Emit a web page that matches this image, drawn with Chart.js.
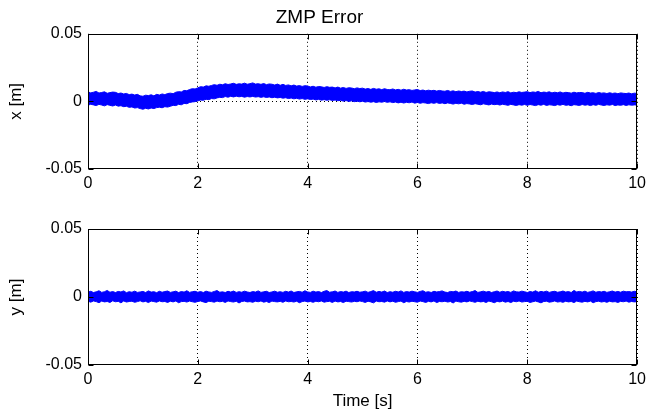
<!DOCTYPE html>
<html>
<head>
<meta charset="utf-8">
<title>ZMP Error</title>
<script src="https://cdn.jsdelivr.net/npm/chart.js@4.4.0/dist/chart.umd.min.js"></script>
<style>
  body { margin: 0; background: #fff; }
  #wrap { position: relative; width: 651px; height: 414px; }
  canvas { position: absolute; left: 0; }
  #zmpx { top: 0; }
  #zmpy { top: 200px; }
</style>
</head>
<body>
<div id="wrap">
  <canvas id="zmpx" width="651" height="200"></canvas>
  <canvas id="zmpy" width="651" height="214"></canvas>
</div>
<script>
// sample times [s]
const time = [
  0, 0.05, 0.1, 0.15, 0.2, 0.25, 0.3, 0.35, 0.4, 0.45,
  0.5, 0.55, 0.6, 0.65, 0.7, 0.75, 0.8, 0.85, 0.9, 0.95,
  1, 1.05, 1.1, 1.15, 1.2, 1.25, 1.3, 1.35, 1.4, 1.45,
  1.5, 1.55, 1.6, 1.65, 1.7, 1.75, 1.8, 1.85, 1.9, 1.95,
  2, 2.05, 2.1, 2.15, 2.2, 2.25, 2.3, 2.35, 2.4, 2.45,
  2.5, 2.55, 2.6, 2.65, 2.7, 2.75, 2.8, 2.85, 2.9, 2.95,
  3, 3.05, 3.1, 3.15, 3.2, 3.25, 3.3, 3.35, 3.4, 3.45,
  3.5, 3.55, 3.6, 3.65, 3.7, 3.75, 3.8, 3.85, 3.9, 3.95,
  4, 4.05, 4.1, 4.15, 4.2, 4.25, 4.3, 4.35, 4.4, 4.45,
  4.5, 4.55, 4.6, 4.65, 4.7, 4.75, 4.8, 4.85, 4.9, 4.95,
  5, 5.05, 5.1, 5.15, 5.2, 5.25, 5.3, 5.35, 5.4, 5.45,
  5.5, 5.55, 5.6, 5.65, 5.7, 5.75, 5.8, 5.85, 5.9, 5.95,
  6, 6.05, 6.1, 6.15, 6.2, 6.25, 6.3, 6.35, 6.4, 6.45,
  6.5, 6.55, 6.6, 6.65, 6.7, 6.75, 6.8, 6.85, 6.9, 6.95,
  7, 7.05, 7.1, 7.15, 7.2, 7.25, 7.3, 7.35, 7.4, 7.45,
  7.5, 7.55, 7.6, 7.65, 7.7, 7.75, 7.8, 7.85, 7.9, 7.95,
  8, 8.05, 8.1, 8.15, 8.2, 8.25, 8.3, 8.35, 8.4, 8.45,
  8.5, 8.55, 8.6, 8.65, 8.7, 8.75, 8.8, 8.85, 8.9, 8.95,
  9, 9.05, 9.1, 9.15, 9.2, 9.25, 9.3, 9.35, 9.4, 9.45,
  9.5, 9.55, 9.6, 9.65, 9.7, 9.75, 9.8, 9.85, 9.9, 9.95,
  10
];

// x error: upper / lower edge of the noisy trace [m]
const xUpper = [
  0.0070, 0.0063, 0.0068, 0.0074, 0.0062, 0.0066, 0.0071, 0.0060, 0.0065, 0.0069,
  0.0067, 0.0058, 0.0062, 0.0055, 0.0059, 0.0050, 0.0054, 0.0047, 0.0052, 0.0041,
  0.0038, 0.0046, 0.0043, 0.0049, 0.0041, 0.0052, 0.0047, 0.0055, 0.0050, 0.0058,
  0.0061, 0.0057, 0.0068, 0.0072, 0.0070, 0.0081, 0.0079, 0.0088, 0.0094, 0.0092,
  0.0100, 0.0109, 0.0106, 0.0115, 0.0112, 0.0118, 0.0124, 0.0119, 0.0127, 0.0123,
  0.0131, 0.0125, 0.0129, 0.0134, 0.0126, 0.0130, 0.0128, 0.0135, 0.0127, 0.0131,
  0.0137, 0.0128, 0.0131, 0.0126, 0.0132, 0.0124, 0.0129, 0.0127, 0.0121, 0.0128,
  0.0119, 0.0126, 0.0118, 0.0122, 0.0115, 0.0121, 0.0113, 0.0117, 0.0111, 0.0116,
  0.0114, 0.0107, 0.0112, 0.0105, 0.0110, 0.0108, 0.0103, 0.0109, 0.0104, 0.0106,
  0.0100, 0.0106, 0.0098, 0.0103, 0.0096, 0.0101, 0.0099, 0.0094, 0.0100, 0.0095,
  0.0098, 0.0091, 0.0095, 0.0089, 0.0096, 0.0090, 0.0093, 0.0087, 0.0094, 0.0088,
  0.0086, 0.0092, 0.0085, 0.0089, 0.0083, 0.0090, 0.0084, 0.0087, 0.0081, 0.0085,
  0.0088, 0.0080, 0.0084, 0.0078, 0.0083, 0.0079, 0.0082, 0.0076, 0.0081, 0.0077,
  0.0075, 0.0081, 0.0074, 0.0078, 0.0072, 0.0077, 0.0073, 0.0076, 0.0070, 0.0075,
  0.0077, 0.0069, 0.0073, 0.0068, 0.0074, 0.0066, 0.0071, 0.0069, 0.0065, 0.0070,
  0.0064, 0.0070, 0.0066, 0.0072, 0.0063, 0.0068, 0.0065, 0.0071, 0.0066, 0.0069,
  0.0072, 0.0065, 0.0070, 0.0067, 0.0074, 0.0064, 0.0069, 0.0066, 0.0071, 0.0063,
  0.0068, 0.0064, 0.0070, 0.0062, 0.0067, 0.0065, 0.0061, 0.0068, 0.0063, 0.0066,
  0.0065, 0.0060, 0.0067, 0.0062, 0.0064, 0.0059, 0.0066, 0.0061, 0.0063, 0.0058,
  0.0064, 0.0059, 0.0062, 0.0057, 0.0063, 0.0060, 0.0058, 0.0062, 0.0056, 0.0061,
  0.0059
];
const xLower = [
  -0.0028, -0.0021, -0.0026, -0.0031, -0.0022, -0.0027, -0.0033, -0.0024, -0.0029, -0.0034,
  -0.0027, -0.0035, -0.0032, -0.0039, -0.0036, -0.0044, -0.0041, -0.0049, -0.0046, -0.0053,
  -0.0058, -0.0051, -0.0056, -0.0049, -0.0053, -0.0046, -0.0043, -0.0047, -0.0039, -0.0042,
  -0.0036, -0.0029, -0.0031, -0.0022, -0.0025, -0.0015, -0.0017, -0.0008, -0.0004, -0.0002,
  0.0004, 0.0010, 0.0008, 0.0016, 0.0013, 0.0021, 0.0019, 0.0026, 0.0030, 0.0028,
  0.0036, 0.0031, 0.0038, 0.0033, 0.0039, 0.0034, 0.0037, 0.0031, 0.0036, 0.0033,
  0.0037, 0.0032, 0.0035, 0.0030, 0.0034, 0.0029, 0.0033, 0.0027, 0.0031, 0.0026,
  0.0029, 0.0024, 0.0027, 0.0021, 0.0025, 0.0019, 0.0023, 0.0017, 0.0021, 0.0015,
  0.0019, 0.0014, 0.0017, 0.0011, 0.0015, 0.0009, 0.0013, 0.0008, 0.0012, 0.0007,
  0.0010, 0.0005, 0.0008, 0.0002, 0.0006, 0.0000, 0.0004, -0.0002, 0.0002, -0.0003,
  0.0001, -0.0005, -0.0001, -0.0006, -0.0002, -0.0008, -0.0003, -0.0006, -0.0001, -0.0007,
  -0.0003, -0.0009, -0.0005, -0.0011, -0.0006, -0.0012, -0.0007, -0.0010, -0.0005, -0.0013,
  -0.0008, -0.0014, -0.0009, -0.0012, -0.0016, -0.0010, -0.0014, -0.0009, -0.0015, -0.0011,
  -0.0017, -0.0011, -0.0015, -0.0020, -0.0014, -0.0018, -0.0013, -0.0021, -0.0016, -0.0019,
  -0.0023, -0.0017, -0.0021, -0.0025, -0.0018, -0.0022, -0.0026, -0.0020, -0.0024, -0.0021,
  -0.0027, -0.0021, -0.0025, -0.0029, -0.0022, -0.0026, -0.0030, -0.0024, -0.0028, -0.0023,
  -0.0029, -0.0023, -0.0027, -0.0031, -0.0024, -0.0028, -0.0022, -0.0030, -0.0025, -0.0027,
  -0.0031, -0.0024, -0.0028, -0.0022, -0.0029, -0.0026, -0.0032, -0.0024, -0.0027, -0.0030,
  -0.0023, -0.0028, -0.0025, -0.0031, -0.0024, -0.0029, -0.0022, -0.0027, -0.0030, -0.0025,
  -0.0028, -0.0023, -0.0031, -0.0026, -0.0029, -0.0024, -0.0030, -0.0025, -0.0028, -0.0026,
  -0.0027
];

// y error: upper / lower edge of the noisy trace [m]
const yUpper = [
  0.0036, 0.0042, 0.0033, 0.0038, 0.0046, 0.0034, 0.0039, 0.0048, 0.0035, 0.0040,
  0.0033, 0.0041, 0.0037, 0.0045, 0.0032, 0.0039, 0.0035, 0.0043, 0.0034, 0.0037,
  0.0041, 0.0033, 0.0045, 0.0036, 0.0039, 0.0032, 0.0042, 0.0035, 0.0040, 0.0044,
  0.0034, 0.0038, 0.0043, 0.0033, 0.0040, 0.0036, 0.0046, 0.0034, 0.0039, 0.0042,
  0.0035, 0.0040, 0.0033, 0.0043, 0.0037, 0.0034, 0.0041, 0.0047, 0.0035, 0.0038,
  0.0033, 0.0042, 0.0036, 0.0044, 0.0034, 0.0039, 0.0035, 0.0043, 0.0037, 0.0033,
  0.0040, 0.0036, 0.0045, 0.0034, 0.0038, 0.0042, 0.0033, 0.0037, 0.0043, 0.0035,
  0.0039, 0.0034, 0.0042, 0.0036, 0.0044, 0.0033, 0.0038, 0.0041, 0.0035, 0.0046,
  0.0037, 0.0034, 0.0043, 0.0036, 0.0040, 0.0033, 0.0042, 0.0047, 0.0035, 0.0038,
  0.0044, 0.0034, 0.0040, 0.0036, 0.0043, 0.0033, 0.0039, 0.0037, 0.0042, 0.0035,
  0.0038, 0.0043, 0.0034, 0.0040, 0.0047, 0.0035, 0.0041, 0.0036, 0.0044, 0.0033,
  0.0039, 0.0035, 0.0042, 0.0037, 0.0045, 0.0034, 0.0040, 0.0036, 0.0043, 0.0038,
  0.0034, 0.0041, 0.0046, 0.0035, 0.0039, 0.0033, 0.0042, 0.0037, 0.0040, 0.0045,
  0.0036, 0.0033, 0.0041, 0.0038, 0.0044, 0.0034, 0.0039, 0.0036, 0.0042, 0.0035,
  0.0040, 0.0047, 0.0034, 0.0038, 0.0043, 0.0036, 0.0041, 0.0033, 0.0039, 0.0044,
  0.0035, 0.0042, 0.0037, 0.0040, 0.0034, 0.0045, 0.0038, 0.0036, 0.0043, 0.0039,
  0.0033, 0.0040, 0.0036, 0.0046, 0.0035, 0.0041, 0.0037, 0.0043, 0.0034, 0.0039,
  0.0042, 0.0035, 0.0038, 0.0044, 0.0036, 0.0040, 0.0033, 0.0048, 0.0037, 0.0041,
  0.0036, 0.0043, 0.0034, 0.0039, 0.0045, 0.0035, 0.0040, 0.0037, 0.0042, 0.0034,
  0.0039, 0.0044, 0.0036, 0.0041, 0.0035, 0.0043, 0.0038, 0.0040, 0.0036, 0.0042,
  0.0038
];
const yLower = [
  -0.0031, -0.0038, -0.0029, -0.0034, -0.0042, -0.0030, -0.0036, -0.0033, -0.0040, -0.0028,
  -0.0035, -0.0032, -0.0043, -0.0029, -0.0037, -0.0033, -0.0031, -0.0039, -0.0034, -0.0028,
  -0.0036, -0.0032, -0.0041, -0.0030, -0.0034, -0.0038, -0.0029, -0.0035, -0.0033, -0.0040,
  -0.0031, -0.0036, -0.0029, -0.0042, -0.0034, -0.0032, -0.0037, -0.0030, -0.0035, -0.0039,
  -0.0033, -0.0029, -0.0036, -0.0041, -0.0031, -0.0034, -0.0038, -0.0030, -0.0035, -0.0032,
  -0.0040, -0.0029, -0.0034, -0.0037, -0.0031, -0.0044, -0.0033, -0.0030, -0.0036, -0.0034,
  -0.0039, -0.0031, -0.0035, -0.0029, -0.0038, -0.0033, -0.0041, -0.0030, -0.0034, -0.0036,
  -0.0032, -0.0039, -0.0029, -0.0035, -0.0033, -0.0037, -0.0031, -0.0042, -0.0034, -0.0030,
  -0.0036, -0.0033, -0.0039, -0.0031, -0.0035, -0.0029, -0.0038, -0.0034, -0.0032, -0.0040,
  -0.0030, -0.0036, -0.0033, -0.0041, -0.0031, -0.0034, -0.0037, -0.0032, -0.0035, -0.0029,
  -0.0034, -0.0040, -0.0031, -0.0036, -0.0043, -0.0030, -0.0035, -0.0033, -0.0038, -0.0029,
  -0.0036, -0.0031, -0.0039, -0.0034, -0.0030, -0.0042, -0.0033, -0.0037, -0.0031, -0.0035,
  -0.0038, -0.0030, -0.0034, -0.0040, -0.0032, -0.0036, -0.0029, -0.0041, -0.0033, -0.0035,
  -0.0031, -0.0037, -0.0033, -0.0044, -0.0030, -0.0035, -0.0038, -0.0032, -0.0036, -0.0029,
  -0.0034, -0.0039, -0.0031, -0.0036, -0.0033, -0.0040, -0.0030, -0.0035, -0.0042, -0.0032,
  -0.0036, -0.0030, -0.0038, -0.0033, -0.0041, -0.0031, -0.0035, -0.0029, -0.0037, -0.0034,
  -0.0032, -0.0040, -0.0035, -0.0030, -0.0036, -0.0043, -0.0033, -0.0031, -0.0038, -0.0035,
  -0.0029, -0.0037, -0.0034, -0.0039, -0.0031, -0.0036, -0.0033, -0.0041, -0.0030, -0.0035,
  -0.0038, -0.0032, -0.0036, -0.0030, -0.0042, -0.0034, -0.0031, -0.0037, -0.0033, -0.0039,
  -0.0031, -0.0036, -0.0034, -0.0040, -0.0032, -0.0035, -0.0030, -0.0038, -0.0033, -0.0036,
  -0.0034
];

const timeTicks = [0, 2, 4, 6, 8, 10];
const errTicks = [-0.05, 0, 0.05];

Chart.defaults.font.family = "'Liberation Sans', Arial, sans-serif";
Chart.defaults.color = '#000';

// box around the axes plus short inward tick marks
const frame = {
  id: 'frame',
  afterDraw(chart) {
    const { ctx, chartArea: a, scales } = chart;
    const l = Math.round(a.left) + 0.5, r = Math.round(a.right) - 0.5;
    const t = Math.round(a.top) + 0.5, b = Math.round(a.bottom) - 0.5;
    ctx.save();
    ctx.strokeStyle = '#000';
    ctx.lineWidth = 1;
    ctx.beginPath();
    scales.x.ticks.forEach(tk => {
      const px = Math.round(scales.x.getPixelForValue(tk.value)) + 0.5;
      ctx.moveTo(px, t); ctx.lineTo(px, t + 5);
      ctx.moveTo(px, b); ctx.lineTo(px, b - 5);
    });
    scales.y.ticks.forEach(tk => {
      const py = Math.round(scales.y.getPixelForValue(tk.value)) + 0.5;
      ctx.moveTo(l, py); ctx.lineTo(l + 5, py);
      ctx.moveTo(r, py); ctx.lineTo(r - 5, py);
    });
    ctx.stroke();
    ctx.strokeRect(l, t, r - l, b - t);
    ctx.restore();
  }
};

function band(upper, lower) {
  const edge = {
    borderColor: '#0000ff',
    backgroundColor: '#0000ff',
    borderWidth: 1,
    pointRadius: 0,
    tension: 0
  };
  return [
    { ...edge, data: time.map((t, i) => ({ x: t, y: upper[i] })), fill: '+1' },
    { ...edge, data: time.map((t, i) => ({ x: t, y: lower[i] })), fill: false }
  ];
}

function makeChart(id, upper, lower, o) {
  return new Chart(document.getElementById(id), {
    type: 'line',
    data: { datasets: band(upper, lower) },
    options: {
      responsive: false,
      animation: false,
      devicePixelRatio: 1,
      layout: { padding: { top: o.padTop, right: 12, left: 0, bottom: 0 } },
      plugins: {
        legend: { display: false },
        tooltip: { enabled: false },
        title: {
          display: !!o.title,
          text: o.title || '',
          color: '#000',
          font: { size: 19, weight: 'normal' },
          padding: { top: 6, bottom: 5 }
        }
      },
      scales: {
        x: {
          type: 'linear',
          min: 0,
          max: 10,
          afterBuildTicks: s => { s.ticks = timeTicks.map(v => ({ value: v })); },
          afterFit: s => { s.height = o.xHeight; },
          ticks: { font: { size: 16 }, padding: 5, maxRotation: 0 },
          grid: { color: '#000', lineWidth: 1, drawTicks: false },
          border: { display: false, dash: [1, 3] },
          title: {
            display: !!o.xTitle,
            text: o.xTitle || '',
            font: { size: 17 },
            padding: { top: 0, bottom: 2 }
          }
        },
        y: {
          min: -0.05,
          max: 0.05,
          afterBuildTicks: s => { s.ticks = errTicks.map(v => ({ value: v })); },
          afterFit: s => { s.width = 88; },
          ticks: {
            font: { size: 16 },
            padding: 6,
            callback: v => (Math.abs(v) < 1e-9 ? '0' : v.toFixed(2))
          },
          grid: {
            drawTicks: false,
            lineWidth: 1,
            color: c => (c.tick && Math.abs(c.tick.value) < 1e-9 ? '#000' : 'rgba(0,0,0,0)')
          },
          border: { display: false, dash: [1, 3] },
          title: {
            display: true,
            text: o.yTitle,
            font: { size: 17 },
            padding: { top: 6, bottom: 0 }
          }
        }
      }
    },
    plugins: [frame]
  });
}

makeChart('zmpx', xUpper, xLower, { title: 'ZMP Error', yTitle: 'x [m]', padTop: 0, xHeight: 31 });
makeChart('zmpy', yUpper, yLower, { yTitle: 'y [m]', xTitle: 'Time [s]', padTop: 29, xHeight: 49 });
</script>
</body>
</html>
